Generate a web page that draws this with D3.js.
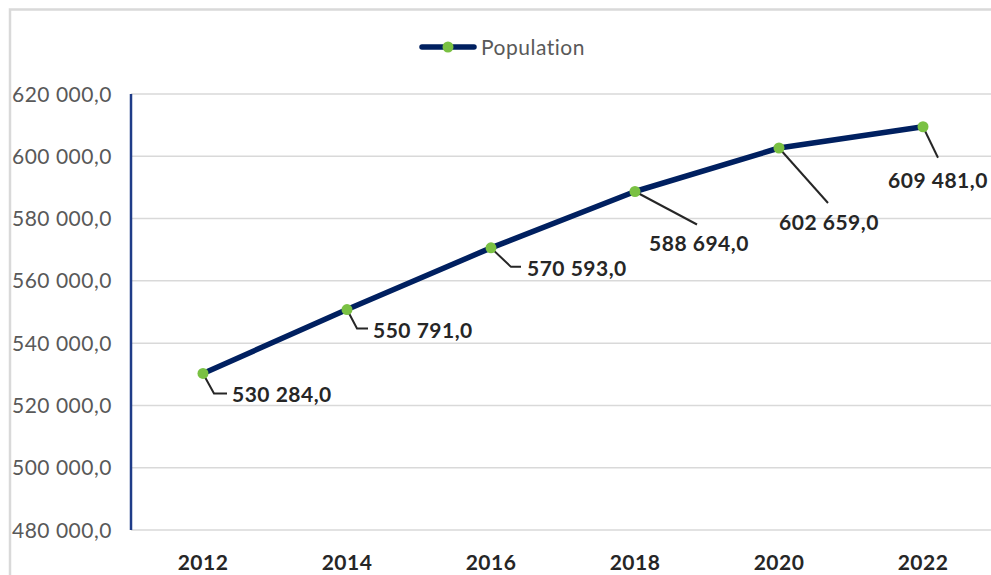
<!DOCTYPE html>
<html>
<head>
<meta charset="utf-8">
<script src="https://cdn.jsdelivr.net/npm/d3@7"></script>
<style>
  body { margin: 0; background: #fff; }
  svg { display: block; font-family: Lato, "Open Sans", sans-serif; }
</style>
</head>
<body>
<svg id="chart"></svg>
<script>
var years = ['2012', '2014', '2016', '2018', '2020', '2022'];
var population = [530284, 550791, 570593, 588694, 602659, 609481];
var yTicks = [480000, 500000, 520000, 540000, 560000, 580000, 600000, 620000];
var seriesName = 'Population';

// label leader offsets (from point): elbow, horizontal end, text anchor
var labelOffsets = [
  { ex: 11, ey: 20, hx: 24, tx: 29, ty: 21, anchor: 'start' },
  { ex: 10, ey: 19, hx: 21, tx: 26, ty: 21, anchor: 'start' },
  { ex: 20, ey: 19, hx: 30, tx: 36, ty: 21, anchor: 'start' },
  { ex: 62, ey: 33, hx: 62, tx: 64, ty: 52, anchor: 'middle' },
  { ex: 49, ey: 55, hx: 49, tx: 50, ty: 74, anchor: 'middle' },
  { ex: 15, ey: 31, hx: 15, tx: 15, ty: 54, anchor: 'middle' }
];

var Chart = (function(){
  var width = 991, height = 575,
      left = 131, top = 94, bottom = 530, right = 995,
      fs = 21, ls = 0.5,
      svg, x, y;

  function fmt(v){
    var s = d3.format(',.1f')(v);
    return s.replace(/,/g, ' ').replace('.', ',');
  }

  return {
    draw: function(){
      svg = d3.select('#chart').attr('width', width).attr('height', height);

      // outer border
      svg.append('path')
        .attr('d', 'M10,' + height + 'V9.5H' + width)
        .attr('fill', 'none')
        .attr('stroke', '#d9d9d9')
        .attr('stroke-width', 2.5);

      x = d3.scalePoint().domain(years).range([left, right]).padding(0.5);
      y = d3.scaleLinear().domain([480000, 620000]).range([bottom, top]);

      // gridlines
      svg.append('g')
        .selectAll('line')
        .data(yTicks)
        .enter()
          .append('line')
          .attr('x1', left).attr('x2', width)
          .attr('y1', function(d){ return y(d); })
          .attr('y2', function(d){ return y(d); })
          .attr('stroke', '#d9d9d9')
          .attr('stroke-width', 1.5);

      // y labels
      svg.append('g')
        .selectAll('text')
        .data(yTicks)
        .enter()
          .append('text')
          .attr('x', 12)
          .attr('y', function(d){ return y(d); })
          .attr('dy', '0.36em')
          .attr('font-size', fs)
          .attr('letter-spacing', ls)
          .attr('fill', '#595959')
          .text(fmt);

      // y axis line
      svg.append('line')
        .attr('x1', left).attr('x2', left)
        .attr('y1', top).attr('y2', bottom)
        .attr('stroke', '#1f3c88')
        .attr('stroke-width', 2.5);

      // x labels
      svg.append('g')
        .selectAll('text')
        .data(years)
        .enter()
          .append('text')
          .attr('x', function(d){ return x(d); })
          .attr('y', 562)
          .attr('dy', '0.36em')
          .attr('text-anchor', 'middle')
          .attr('font-size', fs)
          .attr('letter-spacing', ls)
          .attr('font-weight', 'bold')
          .attr('fill', '#262626')
          .text(function(d){ return d; });

      var pts = years.map(function(d, i){ return [x(d), y(population[i])]; });

      svg.append('path')
        .datum(pts)
        .attr('d', d3.line())
        .attr('fill', 'none')
        .attr('stroke', '#002060')
        .attr('stroke-width', 5.5)
        .attr('stroke-linejoin', 'round')
        .attr('stroke-linecap', 'round');

      // leader lines + labels
      var lab = svg.append('g');
      pts.forEach(function(p, i){
        var o = labelOffsets[i];
        lab.append('path')
          .attr('d', 'M' + p[0] + ',' + p[1] + 'L' + (p[0] + o.ex) + ',' + (p[1] + o.ey) +
                'L' + (p[0] + o.hx) + ',' + (p[1] + o.ey))
          .attr('fill', 'none')
          .attr('stroke', '#262626')
          .attr('stroke-width', 2);
        lab.append('text')
          .attr('x', p[0] + o.tx)
          .attr('y', p[1] + o.ty)
          .attr('dy', '0.36em')
          .attr('text-anchor', o.anchor)
          .attr('font-size', fs)
          .attr('letter-spacing', ls)
          .attr('font-weight', 'bold')
          .attr('fill', '#262626')
          .text(fmt(population[i]));
      });

      svg.append('g')
        .selectAll('circle')
        .data(pts)
        .enter()
          .append('circle')
          .attr('cx', function(d){ return d[0]; })
          .attr('cy', function(d){ return d[1]; })
          .attr('r', 5.5)
          .attr('fill', '#7ac143');

      // legend
      var lg = svg.append('g').attr('transform', 'translate(420,47)');
      lg.append('line')
        .attr('x1', 2).attr('x2', 54)
        .attr('stroke', '#002060').attr('stroke-width', 5.5)
        .attr('stroke-linecap', 'round');
      lg.append('circle').attr('cx', 28).attr('r', 5.5).attr('fill', '#7ac143');
      lg.append('text')
        .attr('x', 61).attr('dy', '0.36em')
        .attr('font-size', fs)
        .attr('letter-spacing', ls)
        .attr('fill', '#595959')
        .text(seriesName);
    }
  };
})();

Chart.draw();
</script>
</body>
</html>
